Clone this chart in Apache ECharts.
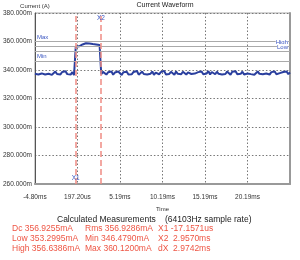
<!DOCTYPE html>
<html><head><meta charset="utf-8">
<script src="https://cdn.jsdelivr.net/npm/echarts@6/dist/echarts.min.js"></script>
<style>html,body{margin:0;padding:0;background:#fff}#c{width:300px;height:260px}</style>
</head><body><div id="c"></div>
<script>
// ---- data ----
const xTickLabels = ['-4.80ms', '197.20us', '5.19ms', '10.19ms', '15.19ms', '20.19ms'];
const xAxisStartMs = -4.8028;          // time at left edge of plot (ms)
const xAxisSpanMs = 30;                // visible span (ms)
const xTickStepMs = 5;
const yTickValues = [260, 280, 300, 320, 340, 360, 380]; // mA
const sampleStartMs = -4.8;
const sampleStepMs = 0.2;
const currentBefore = [337.3, 338.6, 336.9, 338.3, 337.6, 339.0, 336.8, 338.2, 337.4, 338.7, 336.6, 338.0,
  338.9, 337.2, 338.4, 336.9, 338.6, 337.5, 339.1, 337.1, 338.3, 336.8, 338.5, 336.4];
const currentPulse = [356.3, 357.0, 356.6, 357.4, 357.9, 358.3, 358.8, 359.1, 358.6, 359.0, 358.2, 357.6,
  357.9, 357.2, 357.5];
const currentAfter = [
  337.1, 338.7, 337.4, 336.8, 338.4, 337.7, 339.0, 336.7, 338.2, 337.2, 338.9, 337.5, 336.5, 338.5,
  337.4, 338.8, 336.9, 338.2, 337.1, 338.6, 337.6, 339.3, 336.7, 338.0, 338.8, 337.2, 338.4, 336.9,
  338.3, 337.4, 338.9, 336.6, 338.1, 338.7, 337.0, 338.5, 337.6, 339.4, 336.9, 338.2, 337.2, 338.7,
  337.6, 336.7, 338.9, 337.3, 338.5, 337.0, 338.8, 337.9, 336.8, 338.3, 339.1, 337.2, 338.6, 337.5,
  336.7, 338.5, 337.3, 338.9, 337.0, 338.2, 337.6, 339.2, 336.8, 338.6, 337.8, 337.0, 338.8, 337.3,
  338.5, 336.8, 338.2, 337.2, 338.9, 337.5, 336.6, 338.7, 337.8, 339.1, 337.0, 338.4, 337.3, 338.8,
  336.9, 338.3, 337.6, 338.9, 337.1, 338.5, 336.7, 338.0, 339.0, 337.3, 338.6, 337.0, 338.2, 337.5,
  338.8, 336.8, 338.5, 337.3, 338.9, 337.0, 338.3, 337.8, 336.7, 338.6, 337.5, 339.0, 337.1, 338.2];
const refNames = ['Max', 'High', 'Low', 'Min'];
const refValues = [360.12, 356.6386, 353.2995, 346.479];
const refLabelSide = ['start', 'end', 'end', 'start'];
const cursorNames = ['X1', 'X2'];
const cursorTimesMs = [-0.0172, 2.957];
const cursorLabelValues = [264.2, 376.5];
const measureRows = [
  ['Dc 356.9255mA', 'Rms 356.9286mA', 'X1 -17.1571us'],
  ['Low 353.2995mA', 'Min 346.4790mA', 'X2  2.9570ms'],
  ['High 356.6386mA', 'Max 360.1200mA', 'dX  2.9742ms']
];

// ---- build ----
const values = currentBefore.concat(currentPulse, currentAfter);
const wave = values.map((v, i) => [sampleStartMs + i * sampleStepMs - xAxisStartMs, v]);
const FONT = 'Liberation Sans, Arial, sans-serif';
const blue = '#3a55c0';
const red = '#ee5544';

const chart = echarts.init(document.getElementById('c'), null, { renderer: 'canvas' });
const graphics = [
  { type: 'text', x: 165, y: 2, style: { text: 'Current Waveform', font: '7px ' + FONT, fill: '#222', textAlign: 'center' } },
  { type: 'text', x: 57, y: 215, style: { text: 'Calculated Measurements', font: '8.5px ' + FONT, fill: '#222' } },
  { type: 'text', x: 165, y: 215, style: { text: '(64103Hz sample rate)', font: '8.5px ' + FONT, fill: '#222' } }
];
const colX = [12, 85, 158];
measureRows.forEach((row, r) => row.forEach((t, c) => {
  graphics.push({ type: 'text', x: colX[c], y: 224 + r * 10, style: { text: t, font: '8.5px ' + FONT, fill: red } });
}));

chart.setOption({
  animation: false,
  textStyle: { fontFamily: FONT },
  grid: { left: 32, top: 13, width: 258, height: 171, show: true, borderColor: '#aaa', borderWidth: 1, containLabel: false },
  xAxis: {
    type: 'value', min: 0, max: xAxisSpanMs, interval: xTickStepMs,
    name: 'Time', nameLocation: 'middle', nameGap: 22,
    nameTextStyle: { fontSize: 6, color: '#333' },
    axisLine: { show: true, lineStyle: { color: '#999', width: 2 } },
    axisTick: { show: false },
    axisLabel: { fontSize: 6.5, color: '#333', margin: 10, showMaxLabel: false,
      formatter: v => xTickLabels[Math.round(v / xTickStepMs)] || '' },
    splitLine: { show: true, lineStyle: { type: [1.5, 2], color: '#777', width: 1 } }
  },
  yAxis: [{
    type: 'value', min: yTickValues[0], max: yTickValues[yTickValues.length - 1], interval: 20,
    name: 'Current (A)', nameLocation: 'end', nameGap: 4,
    nameTextStyle: { fontSize: 6, color: '#333', align: 'center' },
    axisLine: { show: true, lineStyle: { color: '#555', width: 1 } },
    axisTick: { show: false },
    axisLabel: { fontSize: 6.5, color: '#333', margin: 3, formatter: v => v.toFixed(3) + 'm' },
    splitLine: { show: true, lineStyle: { type: [1.5, 2], color: '#777', width: 1 } }
  }, {
    type: 'value', position: 'right', min: yTickValues[0], max: yTickValues[yTickValues.length - 1],
    axisLine: { show: true, lineStyle: { color: '#999', width: 2 } },
    axisTick: { show: false }, axisLabel: { show: false }, splitLine: { show: false }
  }],
  graphic: graphics,
  series: [
    {
      type: 'line', data: wave, showSymbol: false, symbol: 'none', z: 3,
      lineStyle: { color: '#2a3f9e', width: 2 },
      markLine: {
        silent: true, symbol: 'none', animation: false,
        lineStyle: { color: '#aaa', type: 'solid', width: 1 },
        data: refNames.map((n, i) => ({
          yAxis: refValues[i], name: n,
          label: { show: true, formatter: n, position: refLabelSide[i] === 'start' ? 'insideStartTop' : 'insideEndTop',
            distance: [2, 1], fontSize: 6, color: blue, backgroundColor: refLabelSide[i] === 'end' ? '#fff' : 'transparent' }
        }))
      }
    },
    {
      type: 'line', data: [], z: 4,
      markLine: {
        silent: true, symbol: 'none', animation: false,
        lineStyle: { color: '#f08c84', type: [6, 3], width: 1.5 },
        label: { show: false },
        data: cursorNames.map((n, i) => ({ xAxis: cursorTimesMs[i] - xAxisStartMs, name: n }))
      },
      markPoint: {
        silent: true, symbol: 'circle', symbolSize: 1, itemStyle: { color: 'rgba(0,0,0,0)' },
        label: { show: true, position: 'inside', fontSize: 6.5, color: blue, formatter: p => p.name },
        data: cursorNames.map((n, i) => ({ coord: [cursorTimesMs[i] - xAxisStartMs, cursorLabelValues[i]], name: n }))
      }
    }
  ]
});
</script>
</body></html>
